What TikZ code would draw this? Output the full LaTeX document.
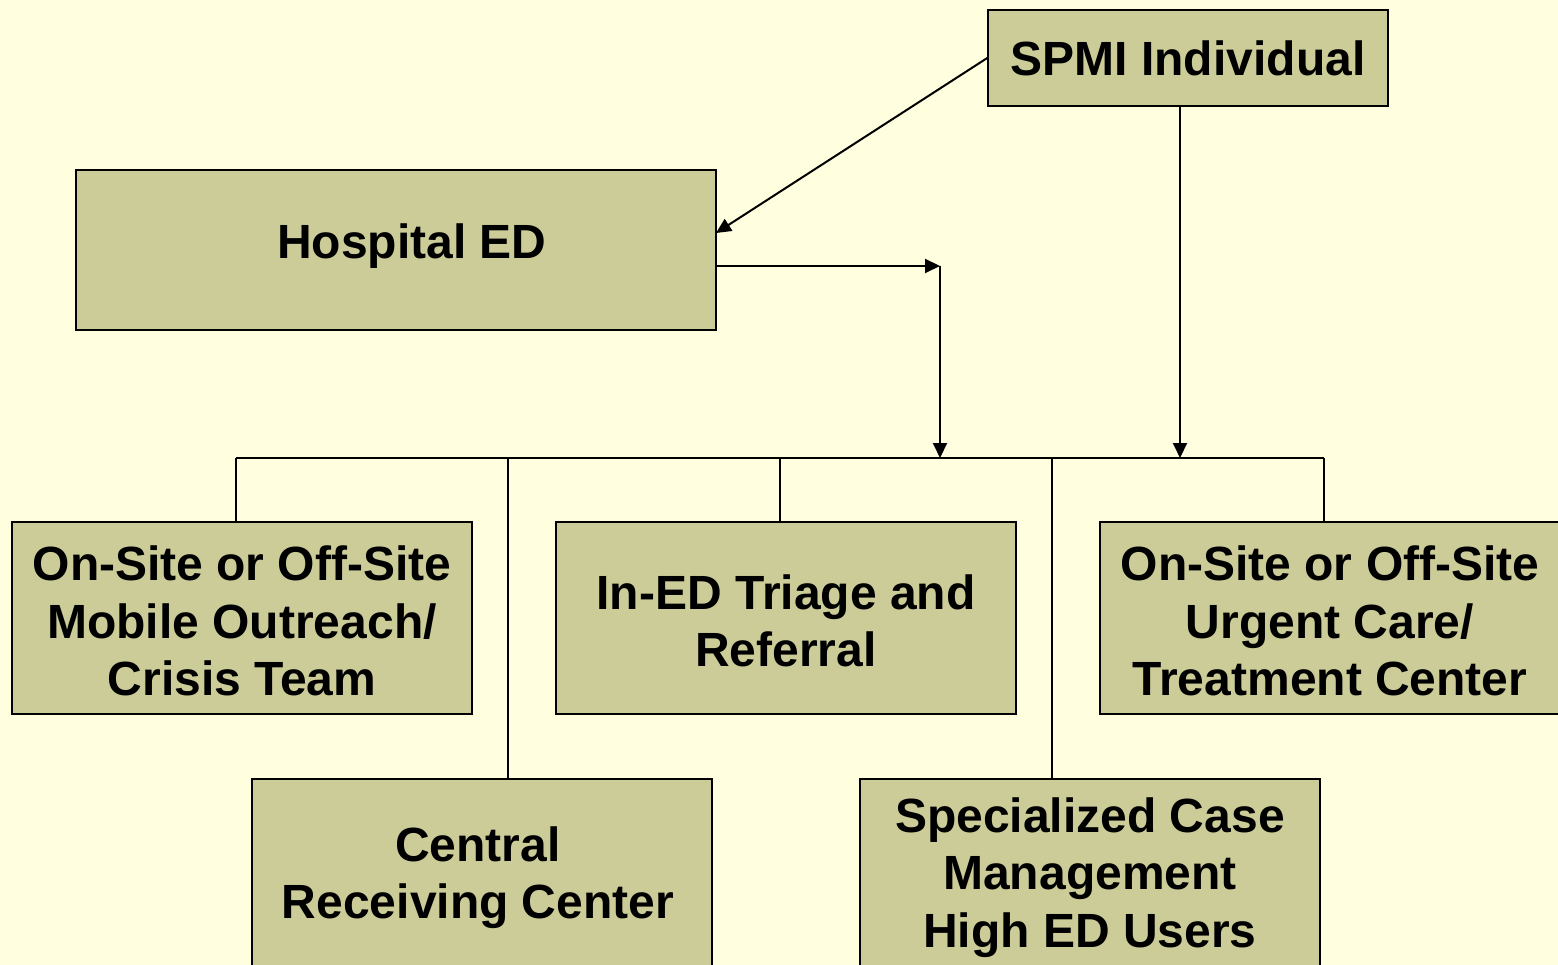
\documentclass[tikz,border=0pt]{standalone}
\usepackage{fontspec}
\setmainfont{Liberation Sans}
\usetikzlibrary{arrows.meta}
\definecolor{bg}{HTML}{FFFFE0}
\definecolor{boxfill}{HTML}{CCCC99}
\begin{document}
\begin{tikzpicture}[x=1pt,y=-1pt,
  box/.style={draw=black,line width=1.5pt,fill=boxfill,align=center,inner sep=0pt,
    font=\bfseries\fontsize{48}{57.5}\selectfont},
  txt/.style={align=center,inner sep=0pt,font=\bfseries\fontsize{48}{57.5}\selectfont},
  conn/.style={draw=black,line width=2pt},
  arr/.style={conn,-{Triangle[length=15pt,width=14pt]}}]
\useasboundingbox (0,0) rectangle (1558,965);
\clip (0,0) rectangle (1558,965);
\fill[bg] (0,0) rectangle (1558,965);
% boxes
\node[box,minimum width=400pt,minimum height=96pt] (spmi) at (1188,58) {SPMI Individual};
\node[box,minimum width=640pt,minimum height=160pt] (hosp) at (396,250) {};
\node[txt] (hospT) at (412,246) {Hospital ED};
\node[box,minimum width=460pt,minimum height=192pt] (mob) at (242,618) {};
\node[txt] (mobT) at (242,621) {On-Site or Off-Site\\Mobile Outreach/\\Crisis Team};
\node[box,minimum width=460pt,minimum height=192pt] (triage) at (786,618) {};
\node[txt] (triageT) at (786,621) {In-ED Triage and\\Referral};
\node[box,minimum width=460pt,minimum height=192pt] (urgent) at (1330,618) {};
\node[txt] (urgentT) at (1330,621) {On-Site or Off-Site\\Urgent Care/\\Treatment Center};
\node[box,minimum width=460pt,minimum height=197pt] (central) at (482,877.5) {};
\node[txt] (centralT) at (478,877.5) {Central\\Receiving Center};
\node[box,minimum width=460pt,minimum height=197pt] (spec) at (1090,877.5) {Specialized Case\\Management\\High ED Users};
% coordinates
\coordinate (h1) at (716,233);
\coordinate (j1) at (940,266);
\coordinate (b1) at (940,458);
\coordinate (b2) at (1180,458);
\coordinate (busL) at (236,458);
\coordinate (busR) at (1324,458);
\coordinate (c1) at (508,458);
\coordinate (c2) at (780,458);
\coordinate (c3) at (1052,458);
% connectors
\draw[arr] (spmi.west) -- (h1);
\draw[arr] (hosp.east |- j1) -- (j1);
\draw[arr] (j1) -- (b1);
\draw[arr] (spmi.south -| b2) -- (b2);
\draw[conn] (busL) -- (busR);
\draw[conn] (busL) -- (mob.north -| busL);
\draw[conn] (c1) -- (central.north -| c1);
\draw[conn] (c2) -- (triage.north -| c2);
\draw[conn] (c3) -- (spec.north -| c3);
\draw[conn] (busR) -- (urgent.north -| busR);
\end{tikzpicture}
\end{document}
